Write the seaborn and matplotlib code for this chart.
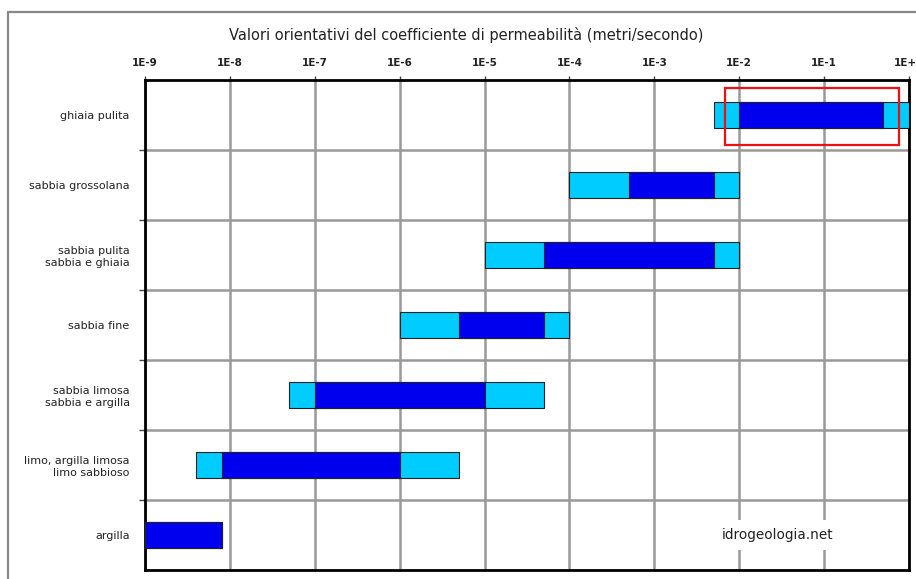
import numpy as np
import pandas as pd
import matplotlib
matplotlib.use("Agg")
import matplotlib.pyplot as plt
from matplotlib.patches import Rectangle
import seaborn as sns

# soil types, top to bottom
categories = [
    "ghiaia pulita",
    "sabbia grossolana",
    "sabbia pulita\nsabbia e ghiaia",
    "sabbia fine",
    "sabbia limosa\nsabbia e argilla",
    "limo, argilla limosa\nlimo sabbioso",
    "argilla",
]
# full range (light) and typical range (dark), m/s
range_low = [5e-3, 1e-4, 1e-5, 1e-6, 5e-8, 4e-9, 1e-9]
range_high = [1.0, 1e-2, 1e-2, 1e-4, 5e-5, 5e-6, 8e-9]
typ_low = [1e-2, 5e-4, 5e-5, 5e-6, 1e-7, 8e-9, 1e-9]
typ_high = [0.5, 5e-3, 5e-3, 5e-5, 1e-5, 1e-6, 8e-9]

tick_values = [1e-9, 1e-8, 1e-7, 1e-6, 1e-5, 1e-4, 1e-3, 1e-2, 1e-1, 1.0]
tick_labels = ["1E-9", "1E-8", "1E-7", "1E-6", "1E-5", "1E-4", "1E-3", "1E-2", "1E-1", "1E+0"]

df = pd.DataFrame({
    "soil": categories,
    "low": range_low, "high": range_high,
    "tlow": typ_low, "thigh": typ_high,
})

sns.set_theme(style="white")
plt.rcParams["font.family"] = ["DejaVu Sans"]

fig = plt.figure(figsize=(9.16, 5.79), dpi=100)
ax = fig.add_axes([145 / 916, 9 / 579, 764 / 916, 490 / 579])

LIGHT = "#00CCFF"
DARK = "#0000EE"
pos = np.arange(len(df))
h = 0.37
ax.barh(pos, df["high"] - df["low"], left=df["low"], height=h,
        color=LIGHT, edgecolor="#202020", linewidth=0.8, zorder=3)
ax.barh(pos, df["thigh"] - df["tlow"], left=df["tlow"], height=h,
        color=DARK, edgecolor="#202020", linewidth=0.8, zorder=4)

ax.set_xscale("log")
ax.set_xlim(1e-9, 1.0)
ax.set_ylim(len(df) - 0.5, -0.5)

ax.xaxis.tick_top()
ax.set_xticks(tick_values)
ax.set_xticklabels(tick_labels, fontsize=7.5, fontweight="bold", color="#222222")
ax.xaxis.set_minor_locator(matplotlib.ticker.NullLocator())
ax.tick_params(axis="x", which="major", direction="out", length=3, width=1,
               color="#444444", pad=6, top=True, bottom=False)

ax.set_yticks(pos[:-1] + 0.5)
ax.set_yticklabels([])
ax.set_yticks(pos, minor=True)
ax.set_yticklabels(df["soil"], minor=True, fontsize=8, color="#222222")
ax.tick_params(axis="y", which="major", direction="out", length=4, width=1,
               color="#444444", left=True)
ax.tick_params(axis="y", which="minor", length=0, pad=11)

ax.grid(True, which="major", color="#999999", linewidth=1.8, zorder=0)
ax.set_axisbelow(True)
for s in ax.spines.values():
    s.set_visible(True)
    s.set_color("black")
    s.set_linewidth(2)

fig.text(0.5 + 8 / 916, 1 - 35 / 579,
         "Valori orientativi del coefficiente di permeabilità (metri/secondo)",
         ha="center", va="center", fontsize=10.5, color="#222222")

ax.text((778 - 145) / 764, (570 - 535) / 490, "idrogeologia.net",
        transform=ax.transAxes, ha="center", va="center", fontsize=9.8,
        color="#222222", zorder=6,
        bbox=dict(facecolor="white", edgecolor="none", pad=6))

# red highlight box
ax.add_patch(Rectangle((0.759, 0.867), 0.228, 0.117, transform=ax.transAxes,
                       fill=False, edgecolor="#EE1111", linewidth=1.6,
                       zorder=7, clip_on=False))

# outer frame (runs off the bottom and right edges)
fig.add_artist(Rectangle((8 / 916, -0.1), 1.0, 1.1 - 12 / 579,
                         transform=fig.transFigure, fill=False,
                         edgecolor="#888888", linewidth=1.6))

fig.savefig("out.png", dpi=100)
